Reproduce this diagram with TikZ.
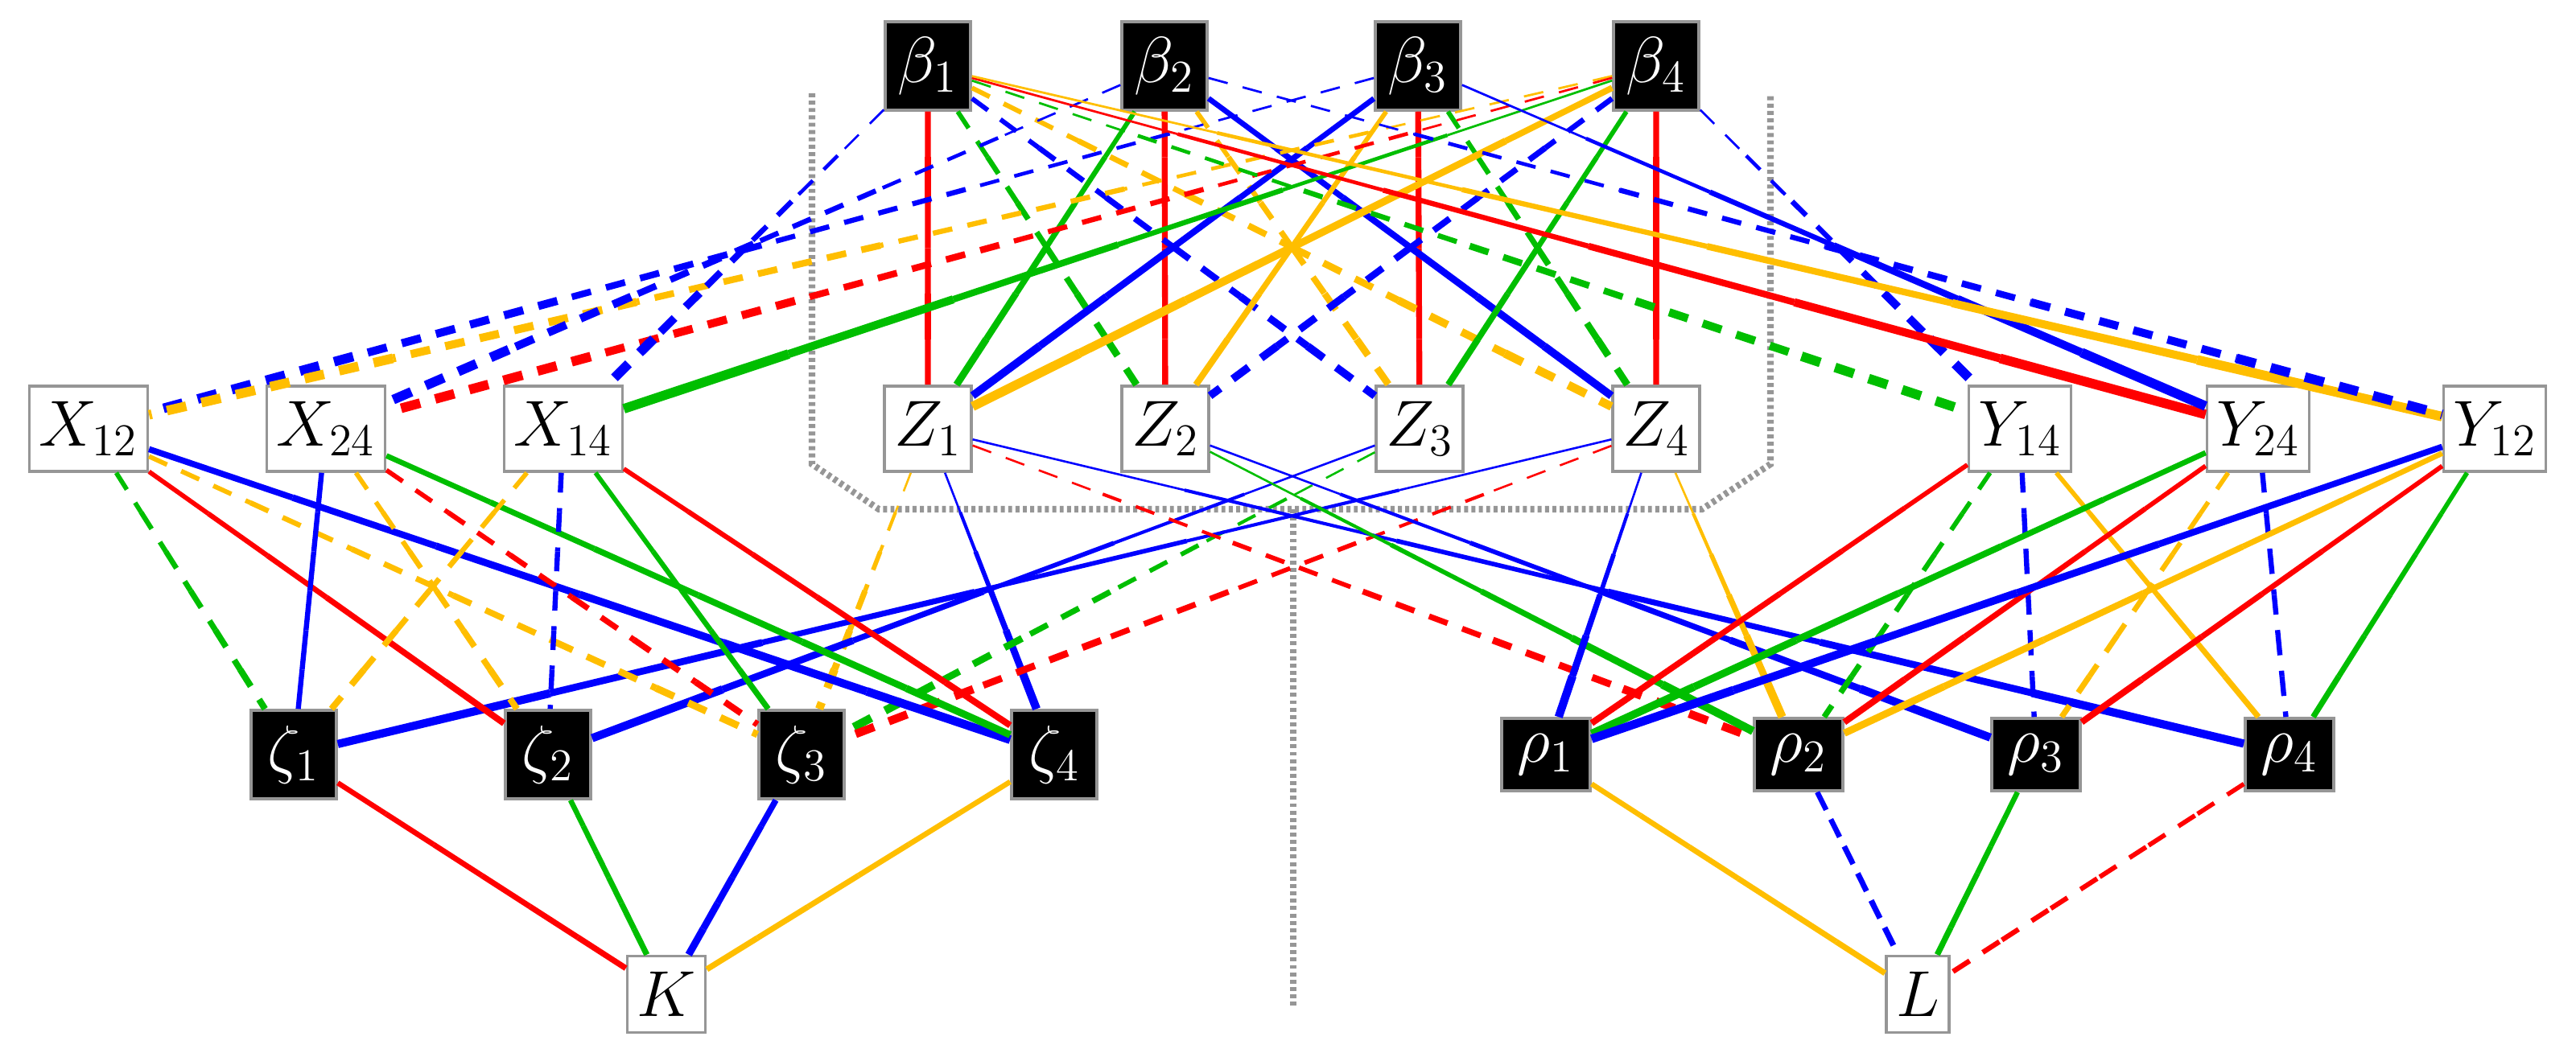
\RequirePackage{fix-cm}
\documentclass[tikz,border=0pt]{standalone}
\usetikzlibrary{calc}
\definecolor{cR}{RGB}{255,0,0}
\definecolor{cG}{RGB}{0,190,0}
\definecolor{cB}{RGB}{0,0,255}
\definecolor{cO}{RGB}{255,190,0}
\definecolor{cGr}{RGB}{150,150,150}
\tikzset{
 wbox/.style={draw=cGr,line width=1pt,fill=white,minimum height=1.06cm,inner xsep=0.12cm,font=\fontsize{23}{28}\selectfont},
 bbox/.style={draw=cGr,line width=1pt,fill=black,text=white,minimum height=1.1cm,minimum width=1.06cm,inner xsep=0.05cm,font=\fontsize{23}{28}\selectfont},
 rbox/.style={bbox,minimum height=0.9cm,minimum width=1.1cm},
 dsh/.style={dash pattern=on 7pt off 5.5pt},
 grayd/.style={draw=cGr,line width=2.3pt,dash pattern=on 1.4pt off 1.2pt},
}
\newcommand\tp[5]{%
 \path (#2) -- (#3) coordinate[pos=0] (tpS) coordinate[pos=1] (tpE);
 \foreach \k in {0,...,5}{%
  \pgfmathsetmacro\ww{1.3*(#4+(#5-#4)*(\k+0.5)/6)}%
  \pgfmathsetmacro\ta{\k/6}\pgfmathsetmacro\tb{(\k+1)/6}%
  \draw[#1,line width=\ww pt] ($(tpS)!\ta!(tpE)$) -- ($(tpS)!\tb!(tpE)$);}}
\begin{document}
\begin{tikzpicture}
\useasboundingbox (0,0) rectangle (32.01,-13.09);
\draw[grayd] (10.09,-1.16) -- (10.09,-5.77) -- (10.92,-6.33) -- (21.15,-6.33) -- (22.00,-5.77) -- (22.00,-1.16);
\draw[grayd] (16.07,-6.33) -- (16.07,-12.50);
% nodes
\node[bbox] (b1) at (11.53,-0.82) {$\beta_1$};
\node[bbox] (b2) at (14.47,-0.82) {$\beta_2$};
\node[bbox] (b3) at (17.62,-0.82) {$\beta_3$};
\node[bbox] (b4) at (20.58,-0.82) {$\beta_4$};
\node[wbox] (X12) at (1.10,-5.33) {$X_{12}$};
\node[wbox] (X24) at (4.05,-5.33) {$X_{24}$};
\node[wbox] (X14) at (7.00,-5.33) {$X_{14}$};
\node[wbox] (Z1) at (11.53,-5.33) {$Z_1$};
\node[wbox] (Z2) at (14.48,-5.33) {$Z_2$};
\node[wbox] (Z3) at (17.64,-5.33) {$Z_3$};
\node[wbox] (Z4) at (20.58,-5.33) {$Z_4$};
\node[wbox] (Y14) at (25.10,-5.33) {$Y_{14}$};
\node[wbox] (Y24) at (28.06,-5.33) {$Y_{24}$};
\node[wbox] (Y12) at (31.00,-5.33) {$Y_{12}$};
\node[bbox] (z1) at (3.65,-9.38) {$\zeta_1$};
\node[bbox] (z2) at (6.81,-9.38) {$\zeta_2$};
\node[bbox] (z3) at (9.96,-9.38) {$\zeta_3$};
\node[bbox] (z4) at (13.10,-9.38) {$\zeta_4$};
\node[rbox] (r1) at (19.21,-9.38) {$\rho_1$};
\node[rbox] (r2) at (22.35,-9.38) {$\rho_2$};
\node[rbox] (r3) at (25.30,-9.38) {$\rho_3$};
\node[rbox] (r4) at (28.45,-9.38) {$\rho_4$};
\node[wbox,minimum height=0.95cm] (K) at (8.28,-12.36) {$K$};
\node[wbox,minimum height=0.95cm] (L) at (23.83,-12.36) {$L$};
% beta - Z
\tp{cR}{b1}{Z1}{1.6}{1.6}
\tp{cR}{b2}{Z2}{1.6}{1.6}
\tp{cR}{b3}{Z3}{1.6}{1.6}
\tp{cR}{b4}{Z4}{1.6}{1.6}
\tp{cG,dsh}{b1}{Z2}{1.2}{2.0}
\tp{cB,dsh}{b1}{Z3}{1.2}{2.2}
\tp{cO,dsh}{b1}{Z4}{1.2}{2.4}
\tp{cG}{b2}{Z1}{1.2}{2.0}
\tp{cO,dsh}{b2}{Z3}{1.2}{2.0}
\tp{cB}{b2}{Z4}{1.4}{2.2}
\tp{cB}{b3}{Z1}{1.4}{2.2}
\tp{cO}{b3}{Z2}{1.2}{1.8}
\tp{cG,dsh}{b3}{Z4}{1.2}{2.0}
\tp{cO}{b4}{Z1}{1.6}{2.6}
\tp{cB,dsh}{b4}{Z2}{1.4}{2.2}
\tp{cG}{b4}{Z3}{1.2}{1.8}
% beta - X/Y
\tp{cB,dsh}{b3}{X12}{0.4}{2.8}
\tp{cO,dsh}{b4}{X12}{0.4}{2.8}
\tp{cB,dsh}{b2}{X24}{0.4}{2.8}
\tp{cR,dsh}{b4}{X24}{0.4}{2.8}
\tp{cB,dsh}{b1}{X14}{0.4}{2.8}
\tp{cG}{b4}{X14}{0.4}{2.8}
\tp{cG,dsh}{b1}{Y14}{0.4}{2.8}
\tp{cB,dsh}{b4}{Y14}{0.4}{2.8}
\tp{cR}{b1}{Y24}{0.4}{2.8}
\tp{cB}{b3}{Y24}{0.4}{2.8}
\tp{cO}{b1}{Y12}{0.4}{2.8}
\tp{cB,dsh}{b2}{Y12}{0.4}{2.8}
% Z - zeta/rho
\tp{cO,dsh}{Z1}{z3}{0.4}{2.4}
\tp{cB}{Z1}{z4}{0.4}{2.4}
\tp{cB}{Z3}{z2}{0.4}{2.4}
\tp{cG,dsh}{Z3}{z3}{0.4}{2.4}
\tp{cB}{Z4}{z1}{0.4}{2.4}
\tp{cR,dsh}{Z4}{z3}{0.4}{2.4}
\tp{cR,dsh}{Z1}{r2}{0.4}{2.4}
\tp{cB}{Z1}{r4}{0.4}{2.4}
\tp{cB}{Z2}{r3}{0.4}{2.4}
\tp{cG}{Z2}{r2}{0.4}{2.4}
\tp{cB}{Z4}{r1}{0.4}{2.4}
\tp{cO}{Z4}{r2}{0.4}{2.4}
% X - zeta
\tp{cG,dsh}{X12}{z1}{1.2}{1.8}
\tp{cR}{X12}{z2}{1.2}{1.8}
\tp{cO,dsh}{X12}{z3}{1.2}{2.0}
\tp{cB}{X12}{z4}{1.6}{2.4}
\tp{cB}{X24}{z1}{1.4}{1.4}
\tp{cO,dsh}{X24}{z2}{1.2}{1.8}
\tp{cR,dsh}{X24}{z3}{1.2}{1.8}
\tp{cG}{X24}{z4}{1.4}{2.0}
\tp{cO,dsh}{X14}{z1}{1.2}{1.8}
\tp{cB,dsh}{X14}{z2}{1.4}{1.4}
\tp{cG}{X14}{z3}{1.2}{1.6}
\tp{cR}{X14}{z4}{1.2}{1.8}
% Y - rho
\tp{cR}{Y14}{r1}{1.2}{1.8}
\tp{cG,dsh}{Y14}{r2}{1.2}{1.6}
\tp{cB,dsh}{Y14}{r3}{1.4}{1.4}
\tp{cO}{Y14}{r4}{1.2}{1.6}
\tp{cG}{Y24}{r1}{1.4}{2.2}
\tp{cR}{Y24}{r2}{1.2}{1.8}
\tp{cO,dsh}{Y24}{r3}{1.2}{1.6}
\tp{cB,dsh}{Y24}{r4}{1.4}{1.4}
\tp{cB}{Y12}{r1}{1.6}{2.4}
\tp{cO}{Y12}{r2}{1.4}{2.0}
\tp{cR}{Y12}{r3}{1.2}{1.8}
\tp{cG}{Y12}{r4}{1.2}{1.6}
% K, L
\tp{cR}{z1}{K}{1.4}{1.6}
\tp{cG}{z2}{K}{1.4}{1.6}
\tp{cB}{z3}{K}{1.6}{2.0}
\tp{cO}{z4}{K}{1.4}{1.6}
\tp{cO}{r1}{L}{1.4}{1.6}
\tp{cB,dsh}{r2}{L}{1.4}{1.6}
\tp{cG}{r3}{L}{1.4}{1.6}
\tp{cR,dsh}{r4}{L}{1.2}{1.4}
\end{tikzpicture}
\end{document}
